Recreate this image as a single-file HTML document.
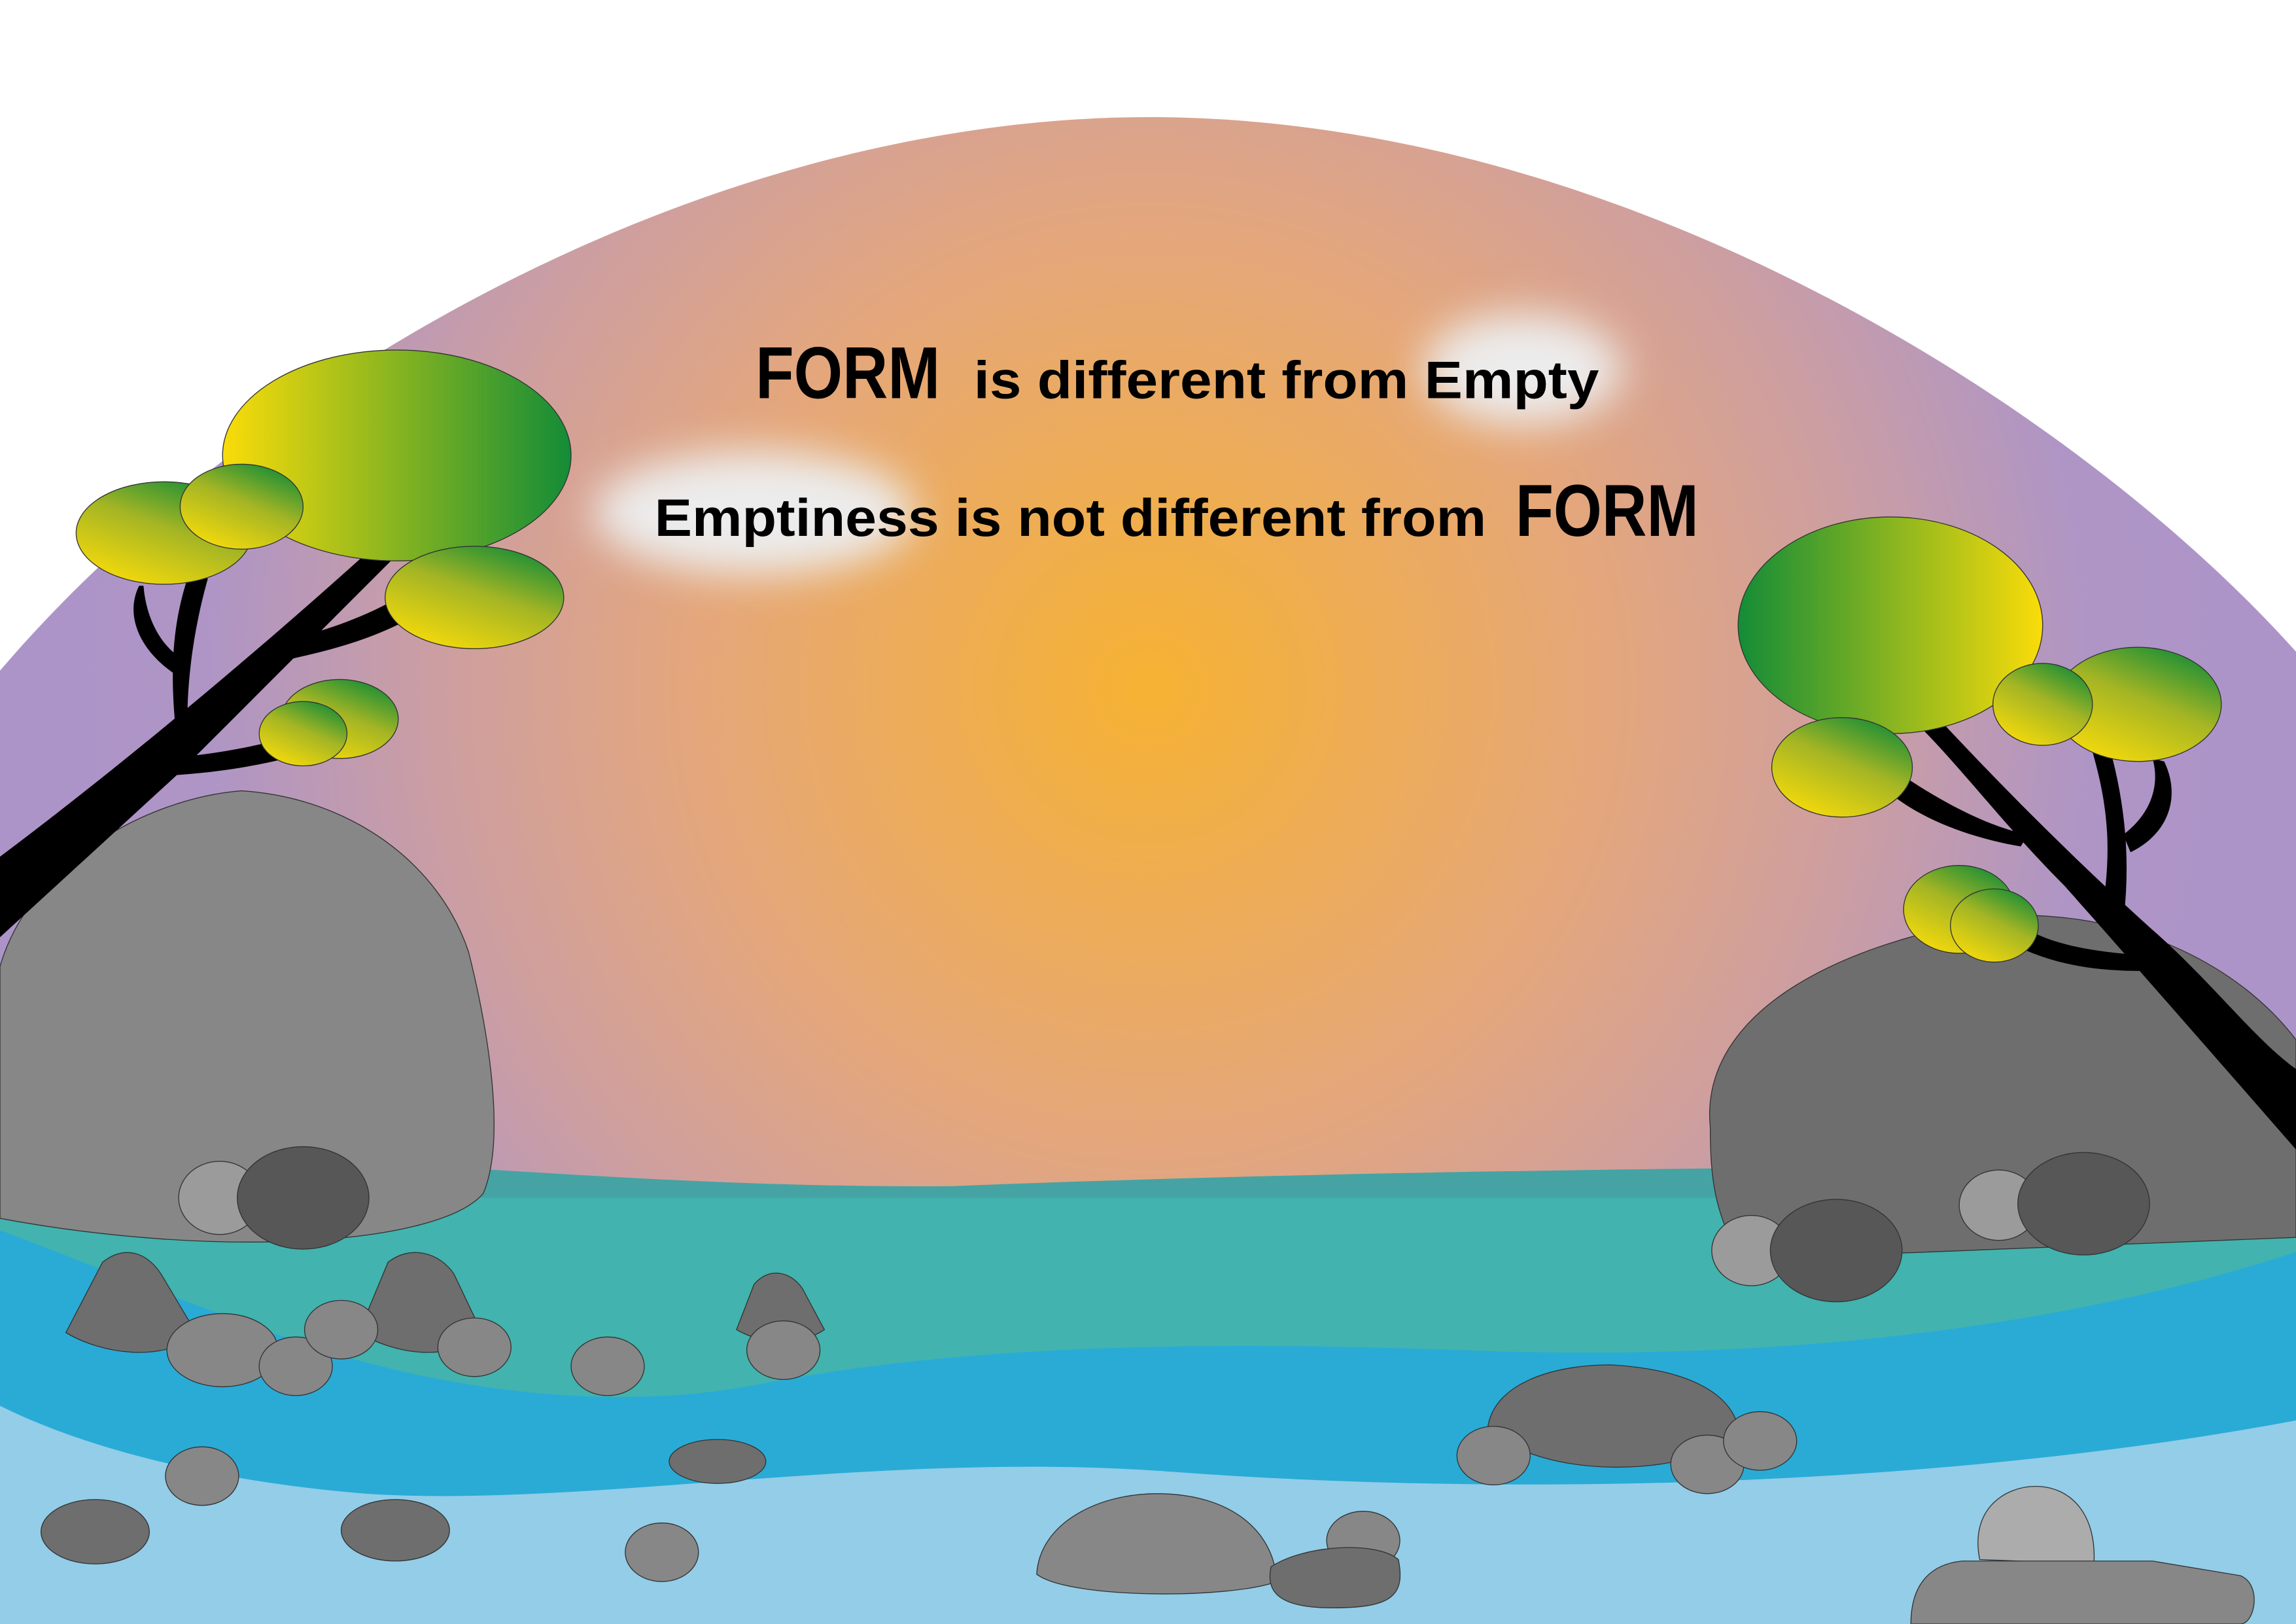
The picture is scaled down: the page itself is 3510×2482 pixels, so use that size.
<!DOCTYPE html>
<html><head><meta charset="utf-8"><style>html,body{margin:0;padding:0;background:#fff}svg{display:block}</style></head>
<body>
<svg width="3510" height="2482" viewBox="0 0 1568 1109" preserveAspectRatio="none" xmlns="http://www.w3.org/2000/svg">
<defs>
<radialGradient id="sky" cx="785" cy="470" r="760" gradientUnits="userSpaceOnUse">
<stop offset="0" stop-color="#f6b232"/><stop offset="0.4" stop-color="#e5a77a"/><stop offset="0.62" stop-color="#cf9f9e"/><stop offset="0.85" stop-color="#ae95c6"/><stop offset="1" stop-color="#ad94c8"/></radialGradient>
<linearGradient id="gL" x1="0" y1="0" x2="1" y2="0"><stop offset="0" stop-color="#fadc0a"/><stop offset="1" stop-color="#138c37"/></linearGradient>
<linearGradient id="gR" x1="0" y1="0" x2="1" y2="0"><stop offset="0" stop-color="#138c37"/><stop offset="1" stop-color="#fadc0a"/></linearGradient>
<linearGradient id="gD" x1="0.2" y1="1" x2="0.8" y2="0"><stop offset="0" stop-color="#fadc0a"/><stop offset="0.55" stop-color="#a4b524"/><stop offset="1" stop-color="#138c37"/></linearGradient>
<filter id="blur" x="-50%" y="-50%" width="200%" height="200%"><feGaussianBlur stdDeviation="14"/></filter>
</defs>
<rect width="1568" height="1109" fill="#fff"/>
<path d="M0,458 C160,270 470,80 785,80 C1110,80 1420,280 1568,445 L1568,860 L0,860 Z" fill="url(#sky)"/>
<g filter="url(#blur)" fill="#ececec">
<ellipse cx="515" cy="350" rx="110" ry="42"/><ellipse cx="1040" cy="252" rx="68" ry="38"/></g>
<g font-family="'Liberation Sans Narrow','Liberation Sans',sans-serif" font-weight="bold" fill="#000">
<text x="516" y="272" font-size="50" textLength="126" lengthAdjust="spacingAndGlyphs">FORM</text>
<text x="665" y="272" font-size="36" textLength="427" lengthAdjust="spacingAndGlyphs">is different from Empty</text>
<text x="447" y="366" font-size="36" textLength="568" lengthAdjust="spacingAndGlyphs">Emptiness is not different from</text>
<text x="1035" y="366" font-size="50" textLength="125" lengthAdjust="spacingAndGlyphs">FORM</text>
</g>
<path d="M0,790 C200,780 400,812 650,810 C900,800 1200,796 1568,796 L1568,830 L0,830 Z" fill="#45a3a3"/>
<rect x="0" y="860" width="1568" height="249" fill="#93cde8"/>
<path d="M0,830 L1568,830 L1568,970 C1300,1020 1000,1020 800,1005 C600,990 400,1030 250,1020 C150,1012 60,990 0,960 Z" fill="#29abd6"/>
<path d="M0,818 L1568,818 L1568,855 C1400,910 1200,930 1000,922 C800,915 650,920 520,945 C420,965 300,950 200,915 C100,880 40,855 0,840 Z" fill="#42b3ae"/>
<path d="M0,660 C20,590 100,545 165,540 C240,545 300,590 320,650 C335,710 345,780 330,815 C300,850 150,860 0,832 Z" fill="#878787" stroke="#333" stroke-width="0.6"/>
<path d="M1168,770 C1160,690 1260,640 1380,625 C1460,625 1530,660 1568,710 L1568,845 L1190,860 C1170,830 1168,800 1168,770 Z" fill="#6e6e6e" stroke="#333" stroke-width="0.6"/>
<g fill="#000">
<path d="M0,585 C80,525 170,450 250,378 L270,380 C220,430 170,480 120,530 L0,640 Z"/>
<path d="M120,498 C115,450 120,420 128,395 L142,395 C132,430 128,465 128,490 Z"/>
<path d="M122,462 C95,445 85,420 95,400 L98,400 C100,425 112,443 125,450 Z"/>
<path d="M180,440 C210,435 240,425 265,412 L275,425 C245,440 220,445 190,452 Z"/>
<path d="M112,518 C150,515 185,508 215,498 L220,511 C185,522 150,528 108,530 Z"/>
</g>
<g stroke="#333" stroke-width="0.6">
<ellipse cx="271" cy="311" rx="119" ry="72" fill="url(#gL)"/>
<ellipse cx="112" cy="364" rx="60" ry="35" fill="url(#gD)"/>
<ellipse cx="165" cy="346" rx="42" ry="29" fill="url(#gD)"/>
<ellipse cx="324" cy="408" rx="61" ry="35" fill="url(#gD)"/>
<ellipse cx="232" cy="491" rx="40" ry="27" fill="url(#gD)"/>
<ellipse cx="207" cy="501" rx="30" ry="22" fill="url(#gD)"/>
</g>
<g fill="#000">
<path d="M1310,495 L1328,495 C1370,540 1420,590 1470,635 C1510,670 1540,710 1568,730 L1568,785 C1520,730 1450,650 1410,605 C1370,565 1340,525 1310,495 Z"/>
<path d="M1436,620 C1442,580 1440,550 1428,510 L1440,508 C1452,550 1455,590 1450,630 Z"/>
<path d="M1450,570 C1470,555 1475,535 1470,518 L1478,520 C1490,545 1480,570 1455,582 Z"/>
<path d="M1300,530 C1330,550 1360,565 1385,570 L1380,578 C1345,572 1315,560 1295,545 Z"/>
<path d="M1380,632 C1400,645 1430,650 1460,652 L1462,663 C1420,663 1395,655 1375,645 Z"/>
</g>
<g stroke="#333" stroke-width="0.6">
<ellipse cx="1291" cy="427" rx="104" ry="74" fill="url(#gR)"/>
<ellipse cx="1258" cy="524" rx="48" ry="34" fill="url(#gD)"/>
<ellipse cx="1460" cy="481" rx="57" ry="39" fill="url(#gD)"/>
<ellipse cx="1395" cy="481" rx="34" ry="28" fill="url(#gD)"/>
<ellipse cx="1338" cy="621" rx="38" ry="30" fill="url(#gD)"/>
<ellipse cx="1362" cy="632" rx="30" ry="25" fill="url(#gD)"/>
</g>
<g stroke="#333" stroke-width="0.6">
<ellipse cx="150" cy="818" rx="28" ry="25" fill="#9b9b9b"/>
<ellipse cx="207" cy="818" rx="45" ry="35" fill="#575757"/>
<path d="M45,910 L70,862 C85,850 100,855 110,870 L135,912 C110,930 70,925 45,910 Z" fill="#6e6e6e"/>
<path d="M245,910 L265,862 C280,850 300,855 310,870 L330,912 C305,930 270,925 245,910 Z" fill="#6e6e6e"/>
<path d="M503,908 L515,877 C525,865 540,868 548,880 L563,908 C545,920 520,918 503,908 Z" fill="#6e6e6e"/>
<ellipse cx="152" cy="922" rx="38" ry="25" fill="#878787"/>
<ellipse cx="202" cy="933" rx="25" ry="20" fill="#878787"/>
<ellipse cx="233" cy="908" rx="25" ry="20" fill="#878787"/>
<ellipse cx="324" cy="920" rx="25" ry="20" fill="#878787"/>
<ellipse cx="415" cy="933" rx="25" ry="20" fill="#878787"/>
<ellipse cx="535" cy="922" rx="25" ry="20" fill="#878787"/>
<ellipse cx="138" cy="1008" rx="25" ry="20" fill="#878787"/>
<ellipse cx="65" cy="1046" rx="37" ry="22" fill="#6e6e6e"/>
<ellipse cx="270" cy="1045" rx="37" ry="21" fill="#6e6e6e"/>
<ellipse cx="452" cy="1060" rx="25" ry="20" fill="#878787"/>
<ellipse cx="490" cy="998" rx="33" ry="15" fill="#6e6e6e"/>
<path d="M708,1075 C710,1040 750,1020 790,1020 C840,1020 870,1045 872,1080 C840,1092 730,1092 708,1075 Z" fill="#878787"/>
<ellipse cx="931" cy="1052" rx="25" ry="20" fill="#878787"/>
<path d="M868,1070 C890,1055 940,1052 955,1065 C960,1090 950,1098 910,1098 C870,1098 865,1085 868,1070 Z" fill="#6e6e6e"/>
<path d="M1016,975 C1020,945 1060,932 1100,932 C1150,935 1185,950 1188,980 C1150,1010 1050,1010 1016,975 Z" fill="#6e6e6e"/>
<ellipse cx="1020" cy="994" rx="25" ry="20" fill="#878787"/>
<ellipse cx="1166" cy="1000" rx="25" ry="20" fill="#878787"/>
<ellipse cx="1202" cy="984" rx="25" ry="20" fill="#878787"/>
<ellipse cx="1196" cy="854" rx="27" ry="24" fill="#9b9b9b"/>
<ellipse cx="1254" cy="854" rx="45" ry="35" fill="#575757"/>
<ellipse cx="1365" cy="823" rx="27" ry="24" fill="#9b9b9b"/>
<ellipse cx="1423" cy="822" rx="45" ry="35" fill="#575757"/>
<path d="M1352,1065 C1345,1030 1370,1015 1390,1015 C1415,1015 1432,1035 1430,1068 Z" fill="#acacac"/>
<path d="M1305,1109 C1305,1080 1320,1068 1340,1066 L1470,1066 L1530,1076 C1545,1082 1540,1109 1530,1109 Z" fill="#878787"/>
</g>
</svg>
</body></html>
